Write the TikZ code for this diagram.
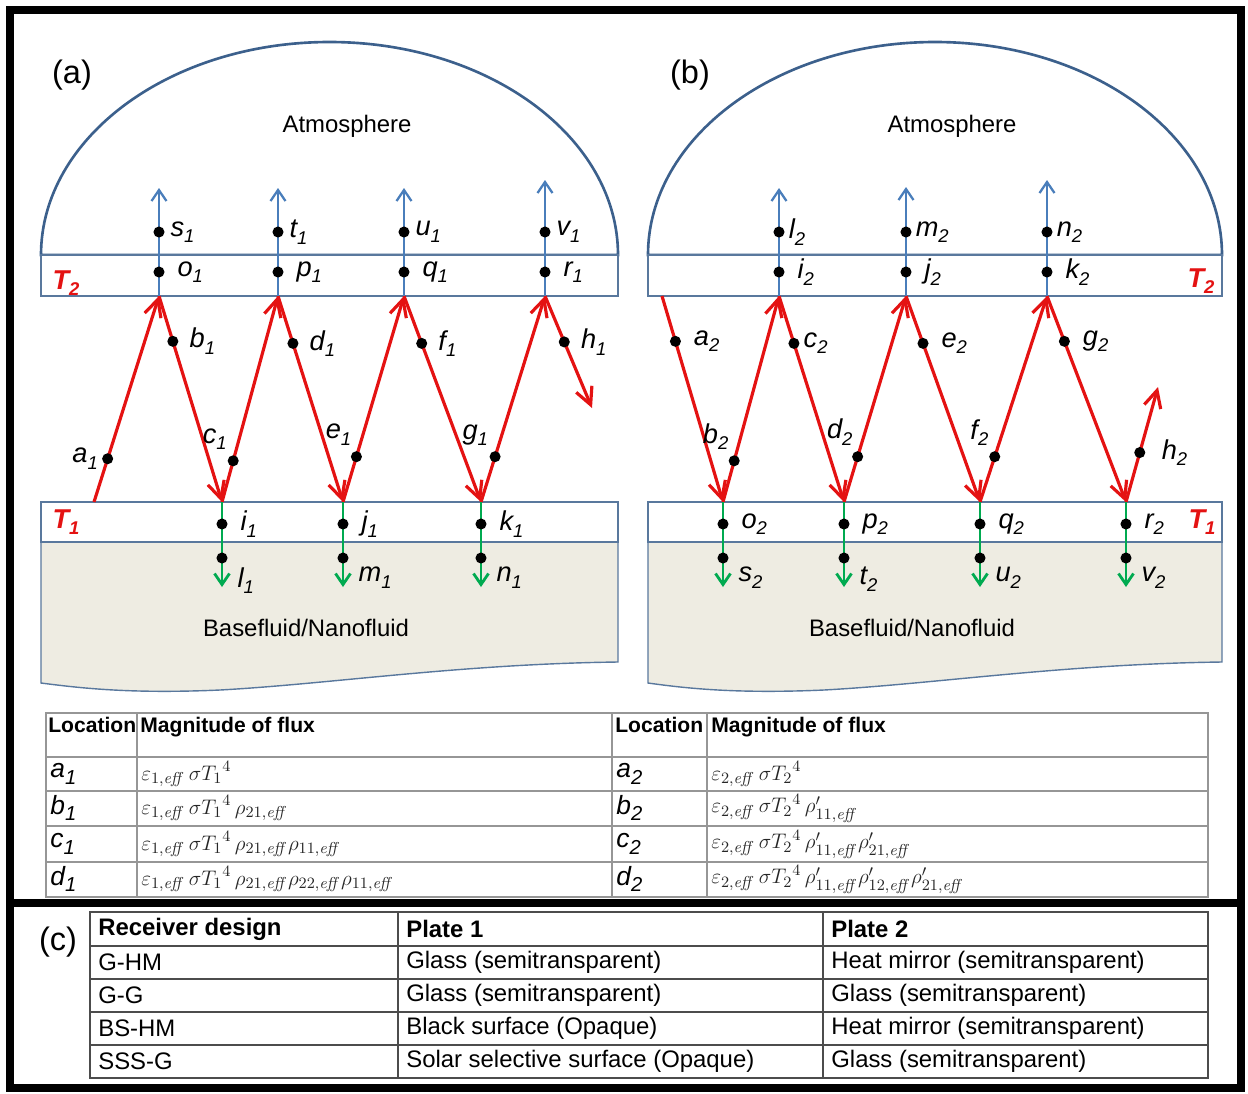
\documentclass[tikz,border=0pt]{standalone}
\usepackage[no-math]{fontspec}
\setmainfont{Liberation Sans}
\usetikzlibrary{arrows.meta,calc}
\definecolor{domeblue}{RGB}{60,96,140}
\definecolor{upblue}{RGB}{74,126,187}
\definecolor{rayred}{RGB}{228,18,18}
\definecolor{downgreen}{RGB}{0,170,80}
\definecolor{fluidtan}{RGB}{238,236,226}
\definecolor{gridgray}{RGB}{150,150,150}
\newcommand{\lab}[3][10.5]{#2\raisebox{-0.45ex}{\fontsize{#1}{#1}\selectfont#3}}
\tikzset{
  dome/.style={draw=domeblue, line width=1.5pt},
  plate/.style={draw=domeblue!85, line width=0.8pt, fill=white},
  fluid/.style={draw=domeblue!85, line width=0.8pt, fill=fluidtan},
  ray/.style={draw=rayred, line width=1.8pt, -{Straight Barb[length=3.4mm, width=3.4mm]}},
  outray/.style={draw=upblue, line width=1.3pt, -{Straight Barb[length=2.2mm, width=3mm]}},
  inray/.style={draw=downgreen, line width=1.6pt, -{Straight Barb[length=2.2mm, width=3mm]}},
  spot/.style={circle, fill=black, inner sep=0pt, minimum size=6.3pt},
  lbl/.style={font=\fontsize{15.5}{18}\selectfont\itshape, inner sep=2pt},
  temp/.style={font=\fontsize{15.5}{18}\selectfont\bfseries\itshape, text=rayred, inner sep=0pt},
  txt/.style={font=\fontsize{13.6}{16}\selectfont, inner sep=0pt},
  panel/.style={font=\fontsize{18.5}{22}\selectfont, inner sep=0pt},
  hdr/.style={font=\fontsize{12}{14}\selectfont\bfseries, inner sep=0pt, anchor=north west},
  loc/.style={font=\fontsize{15}{18}\selectfont\itshape, inner sep=0pt, anchor=west},
  flux/.style={font=\fontsize{13}{15}\selectfont, text=black!85, inner sep=0pt, anchor=west},
  cell/.style={txt, anchor=west},
  tabline/.style={draw=gridgray, line width=0.6pt},
  ctabline/.style={draw=black!70, line width=0.8pt}
}
\begin{document}
\begin{tikzpicture}[x=0.02cm, y=-0.02cm]
\useasboundingbox (0,0) rectangle (1248,1093);
% (a)
\draw[dome] (41,255) arc[start angle=180, end angle=360, x radius=288.5, y radius=213] -- cycle;
\draw[plate] (41,255) rectangle (618,296);
\draw[fluid] (41,542) -- (618,542) -- (618,662) .. controls (460,664) and (330,684) .. (220,690) .. controls (130,694) and (80,688) .. (41,683) -- cycle;
\draw[plate] (41,502) rectangle (618,542);
\node[panel] (pa) at (72,75) {(a)};
\node[txt] (atma) at (347,126) {Atmosphere};
\node[txt] (fla) at (306,628) {Basefluid/Nanofluid};
\node[temp] (t2a) at (66,283) {\lab{T}{2}};
\node[temp] (t1a) at (66,522) {\lab{T}{1}};
\path (94,502) coordinate (A0) (159,296) coordinate (A1) (222,502) coordinate (A2) (278,296) coordinate (A3)
  (343,502) coordinate (A4) (404,296) coordinate (A5) (481,502) coordinate (A6) (545,296) coordinate (A7) (592,408) coordinate (A8);
\foreach \s/\e/\f/\w/\ang/\d in {0/1/0.21/a/180/0, 1/2/0.22/b/0/4, 2/3/0.2/c/110/1, 3/4/0.23/d/0/4,
  4/5/0.22/e/100/1, 5/6/0.23/f/0/4, 6/7/0.22/g/115/1, 7/8/0.41/h/0/4} {
  \draw[ray] (A\s) -- (A\e);
  \node[spot, label={[lbl, label distance=\d pt]\ang:\lab{\w}{1}}] (a\w) at ($(A\s)!\f!(A\e)$) {};
}
\foreach \v/\len/\u/\l in {1/108/s/o, 3/108/t/p, 5/108/u/q, 7/116/v/r} {
  \coordinate (ta\v) at ($(A\v)+(0,-\len)$);
  \draw[outray] (A\v) -- (ta\v);
  \node[spot, label={[lbl, label distance=5pt]0:\lab{\l}{1}}] (a\l) at ($(A\v)+(0,-24)$) {};
  \node[spot, label={[lbl, label distance=1pt]0:\lab{\u}{1}}] (a\u) at ($(A\v)+(0,-64)$) {};
}
\foreach \v/\u/\l in {2/i/l, 4/j/m, 6/k/n} {
  \coordinate (ga\v) at ($(A\v)+(0,85)$);
  \draw[inray] (A\v) -- (ga\v);
  \node[spot, label={[lbl, label distance=5pt]0:\lab{\u}{1}}] (a\u) at ($(A\v)+(0,22)$) {};
  \node[spot, label={[lbl, label distance=4pt]-25:\lab{\l}{1}}] (a\l) at ($(A\v)+(0,56)$) {};
}
% (b)
\draw[dome] (648,255) arc[start angle=180, end angle=360, x radius=287, y radius=213] -- cycle;
\draw[plate] (648,255) rectangle (1222,296);
\draw[fluid] (648,542) -- (1222,542) -- (1222,662) .. controls (1064,664) and (934,684) .. (824,690) .. controls (734,694) and (684,688) .. (648,683) -- cycle;
\draw[plate] (648,502) rectangle (1222,542);
\node[panel] (pb) at (690,75) {(b)};
\node[txt] (atmb) at (952,126) {Atmosphere};
\node[txt] (flb) at (912,628) {Basefluid/Nanofluid};
\node[temp] (t2b) at (1201,281) {\lab{T}{2}};
\node[temp] (t1b) at (1202,522) {\lab{T}{1}};
\path (662,296) coordinate (B0) (723,502) coordinate (B1) (779,296) coordinate (B2) (844,502) coordinate (B3)
  (906,296) coordinate (B4) (980,502) coordinate (B5) (1047,296) coordinate (B6) (1126,502) coordinate (B7) (1158,387) coordinate (B8);
\foreach \s/\e/\f/\w/\ang/\d in {0/1/0.22/a/0/5, 1/2/0.2/b/105/1, 2/3/0.23/c/0/0, 3/4/0.22/d/100/1,
  4/5/0.23/e/0/5, 5/6/0.22/f/110/1, 6/7/0.22/g/0/5, 7/8/0.43/h/0/7} {
  \draw[ray] (B\s) -- (B\e);
  \node[spot, label={[lbl, label distance=\d pt]\ang:\lab{\w}{2}}] (b\w) at ($(B\s)!\f!(B\e)$) {};
}
\foreach \v/\len/\u/\l in {2/108/l/i, 4/109/m/j, 6/116/n/k} {
  \coordinate (tb\v) at ($(B\v)+(0,-\len)$);
  \draw[outray] (B\v) -- (tb\v);
  \node[spot, label={[lbl, label distance=5pt]0:\lab{\l}{2}}] (b\l) at ($(B\v)+(0,-24)$) {};
  \node[spot, label={[lbl, label distance=0pt]0:\lab{\u}{2}}] (b\u) at ($(B\v)+(0,-64)$) {};
}
\foreach \v/\u/\l in {1/o/s, 3/p/t, 5/q/u, 7/r/v} {
  \coordinate (gb\v) at ($(B\v)+(0,85)$);
  \draw[inray] (B\v) -- (gb\v);
  \node[spot, label={[lbl, label distance=5pt]0:\lab{\u}{2}}] (b\u) at ($(B\v)+(0,22)$) {};
  \node[spot, label={[lbl, label distance=4pt]-25:\lab{\l}{2}}] (b\l) at ($(B\v)+(0,56)$) {};
}
% flux table
\draw[tabline] (46,713) rectangle (1208,897);
\foreach \x in {137,612,707} \draw[tabline] (\x,713) -- (\x,897);
\foreach \y in {757,791,826,862} \draw[tabline] (46,\y) -- (1208,\y);
\node[hdr] (hloca) at (48,717) {Location};
\node[hdr] (hmaga) at (140,717) {Magnitude of flux};
\node[hdr] (hlocb) at (615,717) {Location};
\node[hdr] (hmagb) at (711,717) {Magnitude of flux};
\foreach \r/\y/\fa/\fb in {
  a/774/{\varepsilon_{1,\mathit{eff}}\,\sigma {T_1}^{4}}/{\varepsilon_{2,\mathit{eff}}\,\sigma {T_2}^{4}},
  b/808/{\varepsilon_{1,\mathit{eff}}\,\sigma {T_1}^{4}\,\rho_{21,\mathit{eff}}}/{\varepsilon_{2,\mathit{eff}}\,\sigma {T_2}^{4}\,\rho'_{11,\mathit{eff}}},
  c/844/{\varepsilon_{1,\mathit{eff}}\,\sigma {T_1}^{4}\,\rho_{21,\mathit{eff}}\rho_{11,\mathit{eff}}}/{\varepsilon_{2,\mathit{eff}}\,\sigma {T_2}^{4}\,\rho'_{11,\mathit{eff}}\rho'_{21,\mathit{eff}}},
  d/879/{\varepsilon_{1,\mathit{eff}}\,\sigma {T_1}^{4}\,\rho_{21,\mathit{eff}}\rho_{22,\mathit{eff}}\rho_{11,\mathit{eff}}}/{\varepsilon_{2,\mathit{eff}}\,\sigma {T_2}^{4}\,\rho'_{11,\mathit{eff}}\rho'_{12,\mathit{eff}}\rho'_{21,\mathit{eff}}}} {
  \node[loc] (ra\r) at (50,\y) {\lab[11.5]{\r}{1}};
  \node[flux] (fa\r) at (141,\y) {$\fa$};
  \node[loc] (rb\r) at (616,\y) {\lab[11.5]{\r}{2}};
  \node[flux] (fb\r) at (711,\y) {$\fb$};
}
% (c)
\node[panel] (pc) at (58,942) {(c)};
\draw[ctabline] (90,912) rectangle (1208,1078);
\foreach \x in {398,823} \draw[ctabline] (\x,912) -- (\x,1078);
\foreach \y in {946,979,1012,1045} \draw[ctabline] (90,\y) -- (1208,\y);
\node[cell, font=\fontsize{13.6}{16}\selectfont\bfseries] (hrd) at (98,929) {Receiver design};
\node[cell, font=\fontsize{13.6}{16}\selectfont\bfseries] (hp1) at (406,929) {Plate 1};
\node[cell, font=\fontsize{13.6}{16}\selectfont\bfseries] (hp2) at (831,929) {Plate 2};
\foreach \y/\d/\p/\q [count=\k] in {
  962/G-HM/Glass (semitransparent)/Heat mirror (semitransparent),
  995/G-G/Glass (semitransparent)/Glass (semitransparent),
  1028/BS-HM/Black surface (Opaque)/Heat mirror (semitransparent),
  1061/SSS-G/Solar selective surface (Opaque)/Glass (semitransparent)} {
  \node[cell] (d\k) at (98,\y) {\d};
  \node[cell] (p\k) at (406,\y) {\p};
  \node[cell] (q\k) at (831,\y) {\q};
}
\draw[line width=4.6pt] (10,10) rectangle (1241,1088);
\draw[line width=4.6pt] (10,903) -- (1241,903);
\end{tikzpicture}
\end{document}
